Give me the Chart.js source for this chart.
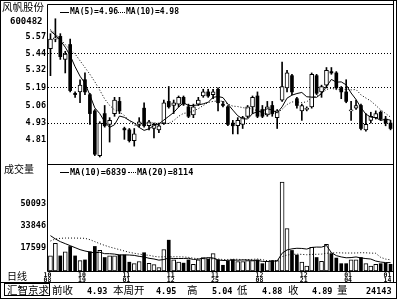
<!DOCTYPE html>
<html><head><meta charset="utf-8">
<script src="https://cdn.jsdelivr.net/npm/chart.js@4.4.1/dist/chart.umd.min.js"></script>
<style>
html,body{margin:0;padding:0;background:#fff;}
#wrap{position:relative;width:400px;height:300px;overflow:hidden;background:#fff;}
canvas{position:absolute;left:0;}
.m{position:absolute;white-space:nowrap;font-family:"DejaVu Sans Mono","Liberation Mono",monospace;font-weight:bold;color:#000;line-height:1;}
.k{position:absolute;white-space:nowrap;font-family:"Noto Sans CJK SC",sans-serif;color:#000;line-height:1;}
.ln{position:absolute;height:0;border-top:1px solid #000;}
.dl{position:absolute;height:0;border-top:1px dotted #000;}
</style></head><body>
<div id="wrap">
<canvas id="frame" width="400" height="300" style="top:0"></canvas>
<canvas id="price" width="400" height="165" style="top:0"></canvas>
<canvas id="vol" width="400" height="120" style="top:164px"></canvas>

<div class="k" style="left:2px;top:2px;font-size:10.5px">风帆股份</div>
<div class="m" style="left:10px;top:17px;font-size:9px">600482</div>
<div class="ln" style="left:60px;top:12px;width:9px"></div>
<div class="m" style="left:70px;top:8px;font-size:8px">MA(5)=4.96</div>
<div class="dl" style="left:118px;top:12px;width:7px"></div>
<div class="m" style="left:126px;top:8px;font-size:8px">MA(10)=4.98</div>

<div class="k" style="left:4px;top:164px;font-size:10px">成交量</div>
<div class="ln" style="left:60px;top:172px;width:9px"></div>
<div class="m" style="left:70px;top:168px;font-size:8.5px">MA(10)=6839</div>
<div class="dl" style="left:128px;top:172px;width:8px"></div>
<div class="m" style="left:137px;top:168px;font-size:8.5px">MA(20)=8114</div>

<div class="k" style="left:7px;top:271px;font-size:10px">日线</div>

<div class="k" style="left:7px;top:285px;font-size:10.5px">汇智京求</div>
<div class="k" style="left:52px;top:285px;font-size:10.5px">前收</div>
<div class="m" style="left:87px;top:287px;font-size:8.5px">4.93</div>
<div class="k" style="left:113px;top:285px;font-size:10.5px">本周开</div>
<div class="m" style="left:156px;top:287px;font-size:8.5px">4.95</div>
<div class="k" style="left:187px;top:285px;font-size:10.5px">高</div>
<div class="m" style="left:212px;top:287px;font-size:8.5px">5.04</div>
<div class="k" style="left:237px;top:285px;font-size:10.5px">低</div>
<div class="m" style="left:262px;top:287px;font-size:8.5px">4.88</div>
<div class="k" style="left:288px;top:285px;font-size:10.5px">收</div>
<div class="m" style="left:312px;top:287px;font-size:8.5px">4.89</div>
<div class="k" style="left:337px;top:285px;font-size:10.5px">量</div>
<div class="m" style="left:366px;top:287px;font-size:8.5px">24143</div>
</div>
<script>
const dates=['10/08','10/11','10/12','10/13','10/14','10/15','10/18','10/19','10/20','10/21','10/22','10/25','10/26','10/27','10/28','10/29',
'11/01','11/02','11/03','11/04','11/05','11/08','11/09','11/10','11/11','11/12','11/15','11/16','11/17','11/18','11/19','11/22','11/23','11/24','11/25','11/26','11/29','11/30',
'12/01','12/02','12/03','12/06','12/07','12/08','12/09','12/10','12/13','12/14','12/15','12/16','12/17','12/20','12/21','12/22','12/23','12/24','12/27','12/28','12/29','12/30','12/31',
'01/04','01/05','01/06','01/07','01/10','01/11','01/12','01/13','01/14'];
const tickDates=['10/08','10/19','11/01','11/12','11/25','12/08','12/21','01/04','01/14'];

const openP=[5.48,5.55,5.57,5.40,5.51,5.15,5.16,5.25,5.14,5.02,
4.69,5.00,4.92,5.00,5.09,4.89,4.88,4.80,4.92,5.04,
4.91,4.89,4.88,4.93,5.09,5.06,5.07,5.12,5.05,4.99,
5.07,5.13,5.16,5.14,5.18,5.07,5.05,4.93,4.91,4.92,
4.98,5.05,5.13,5.03,4.99,5.06,4.97,5.10,5.19,5.28,
5.11,5.02,5.03,5.05,5.28,5.16,5.21,5.31,5.30,5.19,
5.16,5.02,5.04,5.06,4.88,4.95,4.97,5.01,4.96,4.93];
const highP=[5.59,5.70,5.59,5.46,5.55,5.16,5.25,5.30,5.15,5.03,
4.94,5.06,4.97,5.12,5.12,4.90,4.89,4.89,4.97,5.08,
4.95,4.93,4.93,5.10,5.20,5.10,5.13,5.13,5.07,5.07,
5.12,5.18,5.18,5.18,5.19,5.09,5.06,4.95,4.97,4.98,
5.06,5.13,5.16,5.06,5.09,5.09,5.03,5.38,5.32,5.29,
5.12,5.07,5.05,5.30,5.29,5.21,5.34,5.34,5.31,5.20,
5.25,5.09,5.10,5.07,5.00,5.01,5.02,5.02,4.98,4.95];
const lowP=[5.28,5.53,5.40,5.30,5.16,5.12,5.08,5.14,4.92,4.69,
4.68,4.90,4.79,4.98,5.00,4.81,4.79,4.76,4.90,4.90,
4.88,4.82,4.86,4.92,5.04,5.00,5.05,5.06,4.97,4.97,
5.06,5.12,5.12,5.11,5.02,5.05,4.91,4.85,4.85,4.89,
4.97,5.00,4.97,4.97,4.98,4.98,4.89,5.09,5.16,5.14,
5.04,4.95,5.02,5.04,5.14,5.12,5.19,5.29,5.18,5.11,
5.08,4.95,5.03,4.88,4.87,4.93,4.96,4.95,4.91,4.88];
const closeP=[5.55,5.56,5.42,5.44,5.17,5.14,5.21,5.16,5.00,4.70,
4.93,4.91,4.95,5.10,5.02,4.88,4.80,4.85,4.94,4.91,
4.94,4.92,4.91,5.08,5.05,5.08,5.12,5.07,4.98,5.05,
5.10,5.16,5.13,5.16,5.08,5.06,4.92,4.91,4.95,4.97,
5.05,5.12,4.98,4.98,5.05,5.00,5.02,5.20,5.30,5.16,
5.06,5.06,5.04,5.29,5.15,5.20,5.32,5.30,5.19,5.16,
5.09,5.02,5.06,4.89,4.92,4.98,5.00,4.96,4.93,4.89];
const ma5=[5.61,5.58,5.54,5.49,5.428,5.346,5.276,5.224,5.136,5.042,
5.000,4.940,4.898,4.918,4.982,4.972,4.950,4.930,4.898,4.876,
4.888,4.912,4.924,4.952,4.980,5.008,5.048,5.080,5.060,5.060,
5.064,5.072,5.084,5.120,5.126,5.118,5.070,5.026,4.984,4.962,
4.960,5.000,5.014,5.020,5.036,5.026,5.006,5.050,5.114,5.136,
5.148,5.156,5.124,5.122,5.120,5.148,5.200,5.252,5.232,5.234,
5.212,5.152,5.104,5.044,4.996,4.974,4.970,4.950,4.958,4.952];
const ma10=[5.62,5.59,5.55,5.51,5.47,5.44,5.39,5.34,5.29,5.235,
5.173,5.108,5.061,5.027,5.012,4.986,4.945,4.914,4.908,4.929,
4.930,4.931,4.927,4.925,4.928,4.948,4.980,5.002,5.006,5.020,
5.036,5.060,5.082,5.090,5.093,5.091,5.071,5.055,5.052,5.044,
5.039,5.035,5.020,5.002,4.999,4.993,5.003,5.032,5.067,5.086,
5.087,5.081,5.087,5.118,5.128,5.148,5.178,5.188,5.177,5.177,
5.179,5.175,5.178,5.138,5.115,5.093,5.061,5.027,5.001,4.974];
const volume=[11300,20700,11300,14400,18400,11300,7800,8300,14400,18400,
15400,10100,11300,11300,12000,12000,6600,5500,7100,13700,
5700,4800,2600,16100,23100,8300,6600,5900,8300,5000,
8300,10100,9000,13000,8300,4300,7300,8500,7100,7100,
7800,7800,8300,5500,7300,7800,7800,66600,31800,15400,
12000,6600,3600,17700,10100,7300,20000,13000,9700,5500,
5500,8300,8300,10100,5500,3600,5000,5500,5900,5000];
const volMa10=[26500,24000,22000,20500,19000,17500,16000,15000,14200,13630,
14040,12980,12980,12670,12030,12100,11980,11700,10970,10500,
9530,9000,8130,8610,9720,9350,9350,9390,9510,8640,
8900,9430,10070,9760,8280,7880,7950,8210,8090,8300,
8250,8020,7950,7200,7100,7450,7500,13310,15780,16610,
17030,16910,16440,17660,17940,17890,19110,13750,11540,10550,
9900,10070,10540,9780,9320,8950,7450,6700,6320,6270];
const volMa20=[22500,24000,24500,24700,24700,24700,24600,24500,23500,22000,
20500,19200,18000,17000,16000,15000,14000,13300,12700,12065,
11785,10990,10555,10640,10875,10725,10665,10545,10240,9570,
9215,9215,9100,9185,9000,8615,8650,8800,8800,8470,
8575,8725,9010,8480,7690,7665,7725,10760,11935,12455,
12640,12465,12195,12430,12520,12670,13305,13530,13660,13580,
13465,13490,13490,13720,13630,13420,13280,10225,8930,8410];
const priceTicks=[4.81,4.93,5.06,5.19,5.32,5.44,5.57];
const priceGrid=[4.93,5.19,5.44];
const volTicks=[17599,33846,50093];

// frame decorations
const f=document.getElementById('frame').getContext('2d');
f.strokeStyle='#000';f.lineWidth=1;
function L(x1,y1,x2,y2){f.beginPath();f.moveTo(x1,y1);f.lineTo(x2,y2);f.stroke();}
f.strokeRect(0.5,0.5,396,298);
L(47.5,4.5,393.5,4.5);
L(47.5,4.5,47.5,271.5);
L(393.5,0,393.5,282.5);
L(47.5,164.5,393.5,164.5);
L(47.5,271.5,393.5,271.5);
L(0,282.5,397,282.5);
f.strokeRect(4.5,283.5,45,12);

const MONO='"DejaVu Sans Mono","Liberation Mono",monospace';
const isUp=openP.map((o,i)=>closeP[i]>=o);
const upBody=openP.map((o,i)=>isUp[i]?[o,closeP[i]]:null);
const downBody=openP.map((o,i)=>isUp[i]?null:[closeP[i],o]);
const wick=lowP.map((l,i)=>[l,highP[i]]);
const upVol=volume.map((v,i)=>isUp[i]?v:null);
const downVol=volume.map((v,i)=>isUp[i]?null:v);

const common={responsive:false,animation:false,events:[],
  plugins:{legend:{display:false},tooltip:{enabled:false}}};

new Chart(document.getElementById('price'),{
  type:'bar',
  data:{labels:dates,datasets:[
    {type:'line',data:ma5,borderColor:'#000',borderWidth:1,pointRadius:0,tension:0,order:1},
    {type:'line',data:ma10,borderColor:'#000',borderWidth:1,borderDash:[1,2],pointRadius:0,tension:0,order:1},
    {data:upBody,backgroundColor:'#fff',borderColor:'#000',borderWidth:1,borderSkipped:false,barThickness:4,minBarLength:1,grouped:false,order:2},
    {data:downBody,backgroundColor:'#000',borderWidth:0,barThickness:3,minBarLength:1,grouped:false,order:2},
    {data:wick,backgroundColor:'#000',borderWidth:0,barThickness:1,grouped:false,order:3}
  ]},
  options:Object.assign({},common,{
    layout:{padding:{top:5,right:7,bottom:1,left:0}},
    scales:{
      x:{display:false,offset:true},
      y:{min:4.673,max:5.786,
        afterBuildTicks:s=>{s.ticks=priceTicks.map(v=>({value:v}));},
        afterFit:s=>{s.width=48;},
        ticks:{padding:2,color:'#000',font:{family:MONO,size:8.5,weight:'bold'},callback:v=>Number(v).toFixed(2)},
        grid:{drawTicks:false,color:c=>(c.tick&&priceGrid.includes(c.tick.value))?'#000':'rgba(0,0,0,0)',lineWidth:1},
        border:{display:false,dash:[1,2]}
      }
    }
  })
});

new Chart(document.getElementById('vol'),{
  type:'bar',
  data:{labels:dates,datasets:[
    {type:'line',data:volMa10,borderColor:'#000',borderWidth:1,pointRadius:0,tension:0,order:1},
    {type:'line',data:volMa20,borderColor:'#000',borderWidth:1,borderDash:[1,2],pointRadius:0,tension:0,order:1},
    {data:upVol,backgroundColor:'#fff',borderColor:'#000',borderWidth:1,borderSkipped:false,barThickness:4,grouped:false,order:2},
    {data:downVol,backgroundColor:'#000',borderWidth:0,barThickness:3,grouped:false,order:2}
  ]},
  options:Object.assign({},common,{
    layout:{padding:{top:1,right:7,bottom:0,left:0}},
    scales:{
      x:{offset:true,
        afterFit:s=>{s.height=13;},
        grid:{display:false,drawTicks:false},border:{display:false},
        ticks:{autoSkip:false,maxRotation:0,minRotation:0,padding:1.5,labelOffset:-3,crossAlign:'near',color:'#000',
          font:{family:MONO,size:6.5,weight:'bold',lineHeight:'5.2px'},
          callback:(v,i)=>tickDates.includes(dates[i])?dates[i].split('/'):null}
      },
      y:{min:0,max:74880,
        afterBuildTicks:s=>{s.ticks=volTicks.map(v=>({value:v}));},
        afterFit:s=>{s.width=48;},
        ticks:{padding:2,color:'#000',font:{family:MONO,size:8.5,weight:'bold'},callback:v=>String(v)},
        grid:{display:false,drawTicks:false},
        border:{display:false}
      }
    }
  })
});
</script>
</body></html>
